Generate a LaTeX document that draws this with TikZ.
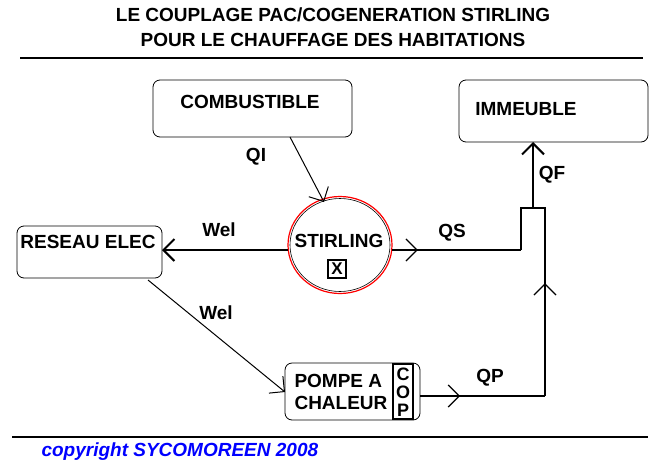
\documentclass[tikz,border=0pt]{standalone}
\usepackage{fontspec}
\setmainfont{Liberation Sans}
\usetikzlibrary{arrows.meta, positioning, shapes.geometric, decorations.markings}
\tikzset{
    lbl/.style = {font=\bfseries\fontsize{19}{21}\selectfont},
    flow/.style = {line width=1.2pt, -{Straight Barb[length=11pt,width=22pt]}},
    midflow/.style = {line width=2pt, decoration={markings, mark=at position #1 with {\arrow[line width=1.2pt]{Straight Barb[length=11pt,width=22pt]}}}, postaction={decorate}},
    box/.style = {rounded corners=7pt, line width=0.8pt},
}
\begin{document}
\begin{tikzpicture}[x=1pt, y=-1pt]
    \useasboundingbox (0,0) rectangle (663,469);
    % Titles
    \node[lbl] (title1) at (333,15) {LE COUPLAGE PAC/COGENERATION STIRLING};
    \node[lbl] (title2) at (333,40) {POUR LE CHAUFFAGE DES HABITATIONS};
    \draw[line width=1.5pt] (20,58) -- (643,58);
    \draw[line width=1.5pt] (12,437) -- (648,437);
    \node[anchor=west, text=blue, font=\bfseries\itshape\fontsize{19}{21}\selectfont] (copy) at (38,452) {copyright SYCOMOREEN 2008};

    % Blocks
    \draw[box] (153,80) rectangle (352,137);
    \node[lbl] (comb) at (250,102) {COMBUSTIBLE};
    \coordinate (combout) at (290,137);
    \draw[box] (459,80) rectangle (648,142);
    \node[lbl] (imm) at (526,109) {IMMEUBLE};
    \coordinate (immin) at (533,142);
    \draw[box] (17,226) rectangle (162,278);
    \node[lbl] (res) at (88,242) {RESEAU ELEC};
    \coordinate (resin) at (162,250);
    \coordinate (resout) at (148,280);

    % Stirling
    \node[draw=red, ellipse, line width=1.2pt, minimum width=104pt, minimum height=97pt] (stir) at (340,245) {};
    \node[draw, ellipse, line width=0.6pt, minimum width=100pt, minimum height=93pt] at (340,245) {};
    \node[lbl] (stirtxt) at (339,241) {STIRLING};
    \node[draw, line width=1.2pt, inner sep=0pt, minimum size=18pt, font=\bfseries\fontsize{17}{19}\selectfont] (x) at (337,269) {X};
    \coordinate (stirtop) at (324,202);
    \coordinate (stirw) at (288,250);
    \coordinate (stire) at (392,250);

    % Pompe
    \draw[box] (285,363) rectangle (420,420);
    \draw[line width=1.5pt] (393,364) rectangle (413,419);
    \node[lbl, align=left, anchor=west, font=\bfseries\fontsize{19}{22}\selectfont] (pac) at (291,392) {POMPE A\\CHALEUR};
    \node[inner sep=0pt, font=\bfseries\fontsize{18}{18}\selectfont] (copc) at (403,374) {C};
    \node[inner sep=0pt, font=\bfseries\fontsize{18}{18}\selectfont] (copo) at (403,392) {O};
    \node[inner sep=0pt, font=\bfseries\fontsize{18}{18}\selectfont] (copp) at (403,410) {P};
    \coordinate (pacin) at (285,392);
    \coordinate (pacout) at (420,396);

    % Junction
    \coordinate (jl) at (521,250);
    \coordinate (jr) at (545,396);
    \draw[line width=2pt] (jl) -- (521,208) -- (545,208) -- (jr);

    % Connections
    \draw[flow, line width=1pt] (combout) -- (stirtop);
    \draw[flow, line width=2pt] (stirw) -- (resin);
    \draw[flow, line width=1pt] (resout) -- (pacin);
    \draw[flow, line width=2pt] (533,208) -- (immin);
    \draw[midflow=0.2] (stire) -- (jl);
    \draw[midflow=0.32] (pacout) -- (jr);
    \draw[midflow=0.6] (jr) -- (545,208);

    % Labels
    \node[lbl] (qi) at (256,157) {QI};
    \node[lbl] (wel1) at (219,230) {Wel};
    \node[lbl] (wel2) at (216,313) {Wel};
    \node[lbl] (qs) at (452,233) {QS};
    \node[lbl] (qf) at (552,175) {QF};
    \node[lbl] (qp) at (490,378) {QP};
\end{tikzpicture}
\end{document}
